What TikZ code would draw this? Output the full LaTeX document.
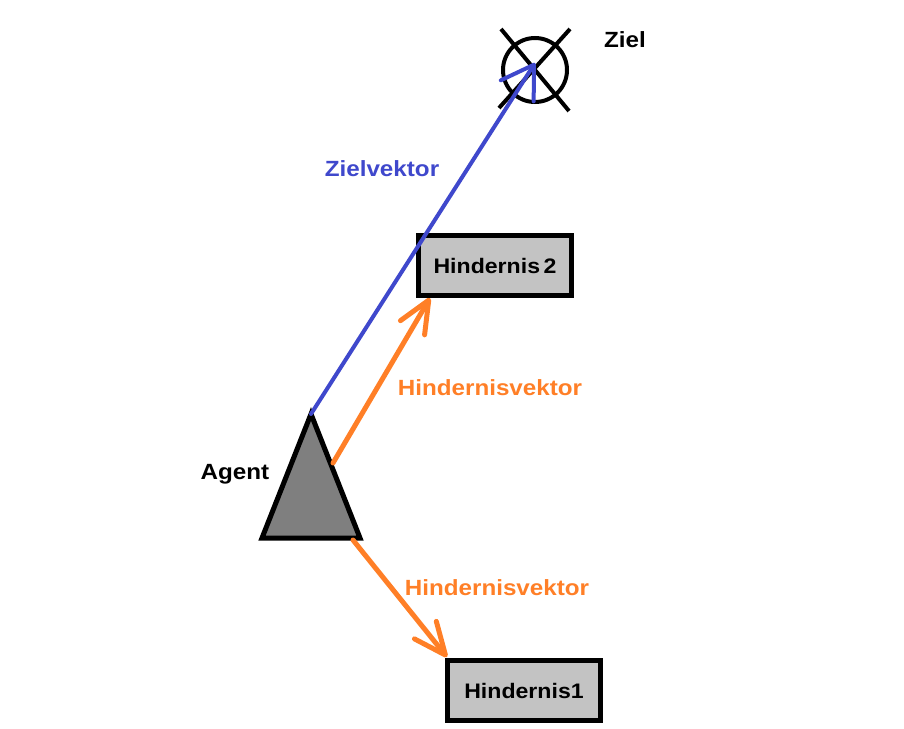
\documentclass[tikz,border=0pt]{standalone}
\usepackage{fontspec}
\setmainfont{Liberation Sans}
\newfontfamily\labelfont[FakeStretch=1.1]{Liberation Sans}
\usetikzlibrary{arrows.meta}
\definecolor{vecblue}{HTML}{3F48CC}
\definecolor{vecorange}{HTML}{FF7F27}
\definecolor{boxgray}{HTML}{C3C3C3}
\definecolor{agentgray}{HTML}{7F7F7F}
\tikzset{
  lbl/.style={font=\labelfont\bfseries\fontsize{22}{24}\selectfont, inner sep=0pt, anchor=base},
  obstacle/.style={draw=black, line width=5pt, fill=boxgray, minimum width=153pt, minimum height=60pt, inner sep=0pt,
    font=\labelfont\bfseries\fontsize{21}{24}\selectfont},
  goalvec/.style={draw=vecblue, line width=4pt, line cap=round,
    -{Straight Barb[length=31pt, width=39pt, line cap=round, line join=round]}},
  obsvec/.style={draw=vecorange, line width=5pt, line cap=round,
    -{Straight Barb[length=32pt, width=28pt, line cap=round, line join=round]}},
  marker/.style={draw=black, line width=4pt},
}
\begin{document}
\begin{tikzpicture}[x=1pt, y=-1pt]
  \useasboundingbox (0,0) rectangle (904,728);

  % agent triangle
  \coordinate (agenttop) at (311,414);
  \coordinate (agentleft) at (262,538);
  \coordinate (agentright) at (360,538);
  \filldraw[fill=agentgray, draw=black, line width=5pt, line join=miter]
    (agenttop) -- (agentleft) -- (agentright) -- cycle;
  \node[lbl] (agentlbl) at (235,479) {Agent};

  % goal marker
  \coordinate (goal) at (535,70);
  \draw[marker] (goal) circle[radius=32];
  \coordinate (crossa1) at (501,29);
  \coordinate (crossa2) at (569,111);
  \coordinate (crossb1) at (570,29);
  \coordinate (crossb2) at (499,108);
  \draw[marker] (crossa1) -- (crossa2);
  \draw[marker] (crossb1) -- (crossb2);
  \node[lbl] (goallbl) at (625,47) {Ziel};

  % obstacles
  \node[obstacle] (h2) at (495,265.5) {Hindernis\,2};
  \node[obstacle] (h1) at (524,690.5) {Hindernis1};

  % vectors
  \coordinate (goaltip) at (535,63);
  \draw[goalvec] (agenttop) -- (goaltip);
  \node[lbl, text=vecblue] (goalveclbl) at (382,176) {Zielvektor};

  \coordinate (o2start) at (333,463);
  \coordinate (o2tip) at (430,298);
  \draw[obsvec] (o2start) -- (o2tip);
  \node[lbl, text=vecorange] (o2lbl) at (490,395) {Hindernisvektor};

  \coordinate (o1start) at (353,540);
  \coordinate (o1tip) at (447,657);
  \draw[obsvec] (o1start) -- (o1tip);
  \node[lbl, text=vecorange] (o1lbl) at (497,595) {Hindernisvektor};
\end{tikzpicture}
\end{document}
